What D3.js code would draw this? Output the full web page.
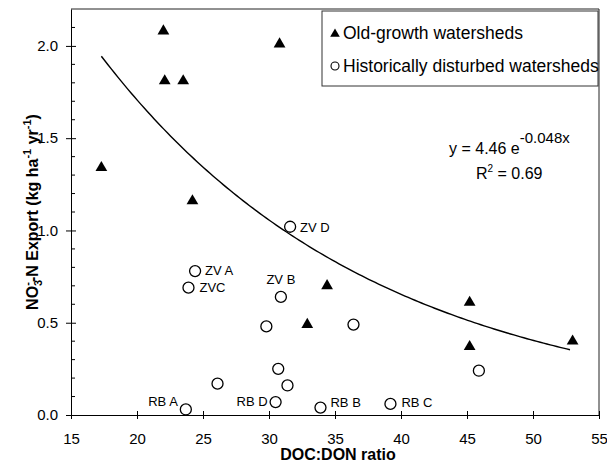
<!DOCTYPE html>
<html>
<head>
<meta charset="utf-8">
<script src="https://cdn.jsdelivr.net/npm/d3@7"></script>
<style>
  body { margin: 0; background: #fff; }
  svg { font-family: "Liberation Sans", Arial, sans-serif; }
  .tick text { font-size: 15px; fill: #000; }
  .pt-label { font-size: 13px; }
</style>
</head>
<body>
<div id="scatter"></div>
<script>
// NO3-N export vs DOC:DON ratio, old-growth vs historically disturbed watersheds

// data
var oldX = [17.3, 22.0, 22.1, 23.5, 24.2, 30.8, 34.4, 32.9, 45.2, 45.2, 53.0];
var oldY = [1.34, 2.08, 1.81, 1.81, 1.16, 2.01, 0.70, 0.49, 0.61, 0.37, 0.40];

var distX = [31.6, 24.4, 23.9, 30.9, 29.8, 36.4, 30.7, 31.4, 26.1, 23.7, 30.5, 33.9, 39.2, 45.9];
var distY = [1.02, 0.78, 0.69, 0.64, 0.48, 0.49, 0.25, 0.16, 0.17, 0.03, 0.07, 0.04, 0.06, 0.24];
var distLabel = ["ZV D", "ZV A", "ZVC", "ZV B", "", "", "", "", "", "RB A", "RB D", "RB B", "RB C", ""];

// exponential fit shown on the chart
var fitA = 4.46;
var fitB = -0.048;
var fitR2 = "0.69";
var fitRange = [17.3, 53.0];

var xTicks = [15, 20, 25, 30, 35, 40, 45, 50, 55];
var yTicks = [0.0, 0.5, 1.0, 1.5, 2.0];

// where each label sits next to its circle
var labelPos = {
  "ZV D": {dx: 10, dy: 5, anchor: "start"},
  "ZV A": {dx: 10, dy: 4, anchor: "start"},
  "ZVC":  {dx: 11, dy: 4, anchor: "start"},
  "ZV B": {dx: 0, dy: -13, anchor: "middle"},
  "RB A": {dx: -8, dy: -3, anchor: "end"},
  "RB D": {dx: -8, dy: 4, anchor: "end"},
  "RB B": {dx: 10, dy: -1, anchor: "start"},
  "RB C": {dx: 11, dy: 3, anchor: "start"}
};

// chart setup
var svgWidth = 607;
var svgHeight = 463;
var margin = {top: 9, right: 8, bottom: 48, left: 71};
var width = svgWidth - margin.left - margin.right;
var height = svgHeight - margin.top - margin.bottom;

var svg = d3.select("#scatter")
  .append("svg")
  .attr("width", svgWidth)
  .attr("height", svgHeight)
  .append("g")
  .attr("transform", `translate(${margin.left}, ${margin.top})`);

var x = d3.scaleLinear().domain([15, 55]).range([0, width]);
var y = d3.scaleLinear().domain([0, 2.2]).range([height, 0]);

// frame (top and right)
svg.append("path")
  .attr("d", `M0,0H${width}V${height}`)
  .attr("fill", "none")
  .attr("stroke", "#222")
  .attr("stroke-width", 1);

// minor y ticks every 0.1, inside
var minor = d3.range(1, 22).filter(d => d % 5 !== 0).map(d => d / 10);
svg.append("g")
  .selectAll("line")
  .data(minor)
  .enter()
  .append("line")
  .attr("x1", 0).attr("x2", 4)
  .attr("y1", d => y(d)).attr("y2", d => y(d))
  .attr("stroke", "#000");

// y axis, ticks crossing the line
var yAxis = svg.append("g")
  .call(d3.axisLeft(y).tickValues(yTicks).tickFormat(d3.format(".1f")).tickSizeInner(5).tickSizeOuter(0).tickPadding(8));
yAxis.selectAll(".tick line").attr("x2", 5).attr("x1", -5);
yAxis.select(".domain").attr("stroke", "#000");

// x axis
var xAxis = svg.append("g")
  .attr("transform", `translate(0,${height})`)
  .call(d3.axisBottom(x).tickValues(xTicks).tickSizeInner(4).tickSizeOuter(0).tickPadding(14));
xAxis.selectAll(".tick line").attr("y1", -4).attr("y2", 4);
xAxis.select(".domain").attr("stroke", "#000");

// axis titles
svg.append("text")
  .attr("x", width / 2 + 3)
  .attr("y", height + 45)
  .attr("text-anchor", "middle")
  .attr("font-weight", "bold")
  .attr("font-size", 16)
  .text("DOC:DON ratio");

var yTitle = svg.append("text")
  .attr("transform", `translate(${38 - margin.left}, ${height / 2}) rotate(-90)`)
  .attr("text-anchor", "middle")
  .attr("font-weight", "bold")
  .attr("font-size", 16);
yTitle.append("tspan").text("NO");
yTitle.append("tspan").attr("font-size", 11).attr("dy", 4).text("3");
yTitle.append("tspan").attr("font-size", 11).attr("dx", -6).attr("dy", -11).text("-");
yTitle.append("tspan").attr("dy", 7).text("-N Export (kg ha");
yTitle.append("tspan").attr("font-size", 11).attr("dy", -7).text("-1");
yTitle.append("tspan").attr("dy", 7).text(" yr");
yTitle.append("tspan").attr("font-size", 11).attr("dy", -7).text("-1");
yTitle.append("tspan").attr("dy", 7).text(")");

// fitted curve
var fitXs = d3.range(fitRange[0], fitRange[1] + 0.01, 0.25);
svg.append("path")
  .datum(fitXs)
  .attr("fill", "none")
  .attr("stroke", "#000")
  .attr("stroke-width", 1.4)
  .attr("d", d3.line().x(d => x(d)).y(d => y(fitA * Math.exp(fitB * d))));

// old-growth triangles
var tri = d3.symbol().type(d3.symbolTriangle).size(60);
svg.selectAll(".oldPt")
  .data(oldX)
  .enter()
  .append("path")
  .attr("class", "oldPt")
  .attr("d", tri)
  .attr("transform", (d, i) => `translate(${x(d)},${y(oldY[i])})`)
  .attr("fill", "#000");

// disturbed circles
var distData = distX.map((d, i) => ({x: d, y: distY[i], label: distLabel[i]}));
svg.selectAll(".distPt")
  .data(distData)
  .enter()
  .append("circle")
  .attr("class", "distPt")
  .attr("cx", d => x(d.x))
  .attr("cy", d => y(d.y))
  .attr("r", 5.5)
  .attr("fill", "#fff")
  .attr("stroke", "#000")
  .attr("stroke-width", 1.3);

// circle labels
svg.selectAll(".pt-label")
  .data(distData.filter(d => d.label !== ""))
  .enter()
  .append("text")
  .attr("class", "pt-label")
  .attr("x", d => x(d.x) + labelPos[d.label].dx)
  .attr("y", d => y(d.y) + labelPos[d.label].dy)
  .attr("text-anchor", d => labelPos[d.label].anchor)
  .text(d => d.label);

// equation
var eq = svg.append("text")
  .attr("x", 449 - margin.left)
  .attr("y", 154 - margin.top)
  .attr("font-size", 16);
eq.append("tspan").text("y = " + fitA + " e");
eq.append("tspan").attr("dy", -11).attr("font-size", 15).text(fitB + "x");

var r2 = svg.append("text")
  .attr("x", 476 - margin.left)
  .attr("y", 179 - margin.top)
  .attr("font-size", 16);
r2.append("tspan").text("R");
r2.append("tspan").attr("dy", -7).attr("font-size", 10).text("2");
r2.append("tspan").attr("dy", 7).text(" = " + fitR2);

// legend
var legend = svg.append("g").attr("transform", `translate(${322 - margin.left}, ${11 - margin.top})`);
legend.append("rect")
  .attr("width", 276).attr("height", 75)
  .attr("fill", "#fff").attr("stroke", "#333").attr("stroke-width", 1);
legend.append("path")
  .attr("d", d3.symbol().type(d3.symbolTriangle).size(40))
  .attr("transform", "translate(13,23)");
legend.append("text").attr("x", 21).attr("y", 28).attr("font-size", 17.5).text("Old-growth watersheds");
legend.append("circle")
  .attr("cx", 13).attr("cy", 55).attr("r", 4)
  .attr("fill", "#fff").attr("stroke", "#000").attr("stroke-width", 1.1);
legend.append("text").attr("x", 21).attr("y", 61).attr("font-size", 17.5).text("Historically disturbed watersheds");
</script>
</body>
</html>
